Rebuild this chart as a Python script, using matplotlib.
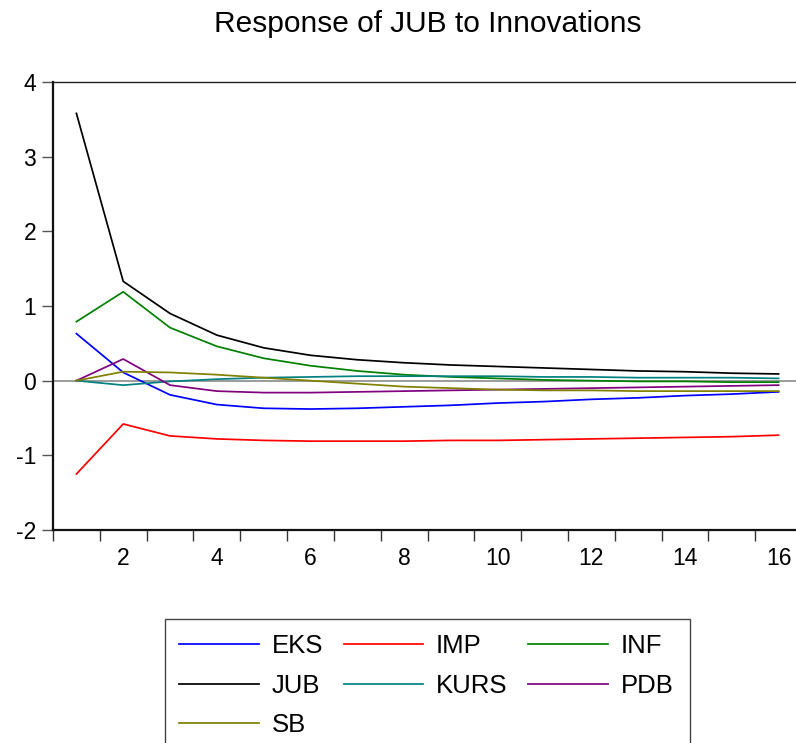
import matplotlib
matplotlib.use("Agg")
import matplotlib.pyplot as plt
from matplotlib.patches import Rectangle
import numpy as np

plt.rcParams['font.family'] = ['Liberation Sans', 'DejaVu Sans']

periods = np.arange(1, 17)

eks = [0.63, 0.11, -0.19, -0.32, -0.37, -0.38, -0.37, -0.35,
       -0.33, -0.30, -0.28, -0.25, -0.23, -0.20, -0.18, -0.15]
imp = [-1.25, -0.58, -0.74, -0.78, -0.80, -0.81, -0.81, -0.81,
       -0.80, -0.80, -0.79, -0.78, -0.77, -0.76, -0.75, -0.73]
inf = [0.79, 1.19, 0.71, 0.46, 0.30, 0.20, 0.13, 0.08,
       0.05, 0.03, 0.01, 0.00, -0.01, -0.01, -0.02, -0.02]
jub = [3.58, 1.33, 0.90, 0.61, 0.44, 0.34, 0.28, 0.24,
       0.21, 0.19, 0.17, 0.15, 0.13, 0.12, 0.10, 0.09]
kurs = [0.00, -0.06, -0.01, 0.02, 0.04, 0.05, 0.06, 0.06,
        0.06, 0.06, 0.05, 0.05, 0.04, 0.04, 0.04, 0.03]
pdb = [0.00, 0.29, -0.06, -0.14, -0.16, -0.16, -0.15, -0.14,
       -0.13, -0.12, -0.11, -0.10, -0.09, -0.08, -0.07, -0.06]
sb = [0.00, 0.12, 0.11, 0.08, 0.04, 0.00, -0.04, -0.08,
      -0.10, -0.12, -0.13, -0.13, -0.14, -0.14, -0.14, -0.14]

series_names = ["EKS", "IMP", "INF", "JUB", "KURS", "PDB", "SB"]
series_values = [eks, imp, inf, jub, kurs, pdb, sb]
series_colors = ["#0000ff", "#ff0000", "#008000", "#000000",
                 "#008080", "#800080", "#808000"]

x_tick_labels = [2, 4, 6, 8, 10, 12, 14, 16]
y_ticks = [-2, -1, 0, 1, 2, 3, 4]

W, H = 796, 743
fig = plt.figure(figsize=(W / 100, H / 100), dpi=100)

# axes box in pixel terms (right edge runs past the canvas)
left_px, right_px, top_px, bottom_px = 53, 802, 82, 530
ax = fig.add_axes([left_px / W, 1 - bottom_px / H,
                   (right_px - left_px) / W, (bottom_px - top_px) / H])

ax.axhline(0, color="#808080", lw=1.1, zorder=1)
lines = {}
for name, vals, col in zip(series_names, series_values, series_colors):
    ln, = ax.plot(periods, vals, color=col, lw=1.25, label=name, zorder=2)
    lines[name] = ln

ax.set_xlim(0.5, 16.5)
ax.set_ylim(-2, 4)

# period boundaries carry the tick marks, even periods carry the labels
ax.set_xticks(np.arange(0.5, 17.0, 1.0))
ax.set_xticklabels([])
ax.set_xticks(x_tick_labels, minor=True)
ax.set_xticklabels([str(v) for v in x_tick_labels], minor=True)
ax.tick_params(axis="x", which="major", direction="out", length=8,
               width=1.0, color="#333333")
ax.tick_params(axis="x", which="minor", length=0, pad=12, labelsize=16.5)

ax.set_yticks(y_ticks)
ax.set_yticklabels([str(v) for v in y_ticks])
ax.tick_params(axis="y", direction="out", length=8, width=1.0,
               color="#555555", pad=4, labelsize=16.5)

for side in ["left", "bottom"]:
    ax.spines[side].set_linewidth(1.6)
    ax.spines[side].set_color("#111111")
ax.spines["top"].set_linewidth(1.0)
ax.spines["top"].set_color("#222222")
ax.spines["right"].set_linewidth(1.0)

fig.text(428 / W, 1 - 24 / H, "Response of JUB to Innovations",
         ha="center", va="center", fontsize=21.5)

# legend frame open at the bottom edge of the canvas
fig.patches.append(Rectangle((165 / W, -0.01), (690 - 165) / W,
                             1 - 619 / H + 0.01,
                             transform=fig.transFigure, fill=False,
                             edgecolor="#444444", lw=1.0, clip_on=False))

# legend entries read across rows: EKS IMP INF / JUB KURS PDB / SB
legend_order = ["EKS", "JUB", "SB", "IMP", "KURS", "INF", "PDB"]
fig.legend(handles=[lines[n] for n in legend_order], labels=legend_order,
           ncol=3, loc="upper left", bbox_to_anchor=(174 / W, 1 - 629 / H),
           frameon=False, fontsize=18.5, handlelength=3.1,
           handletextpad=0.5, columnspacing=0.8, labelspacing=0.6,
           borderpad=0.2, borderaxespad=0.0)

fig.savefig("out.png", dpi=100)
